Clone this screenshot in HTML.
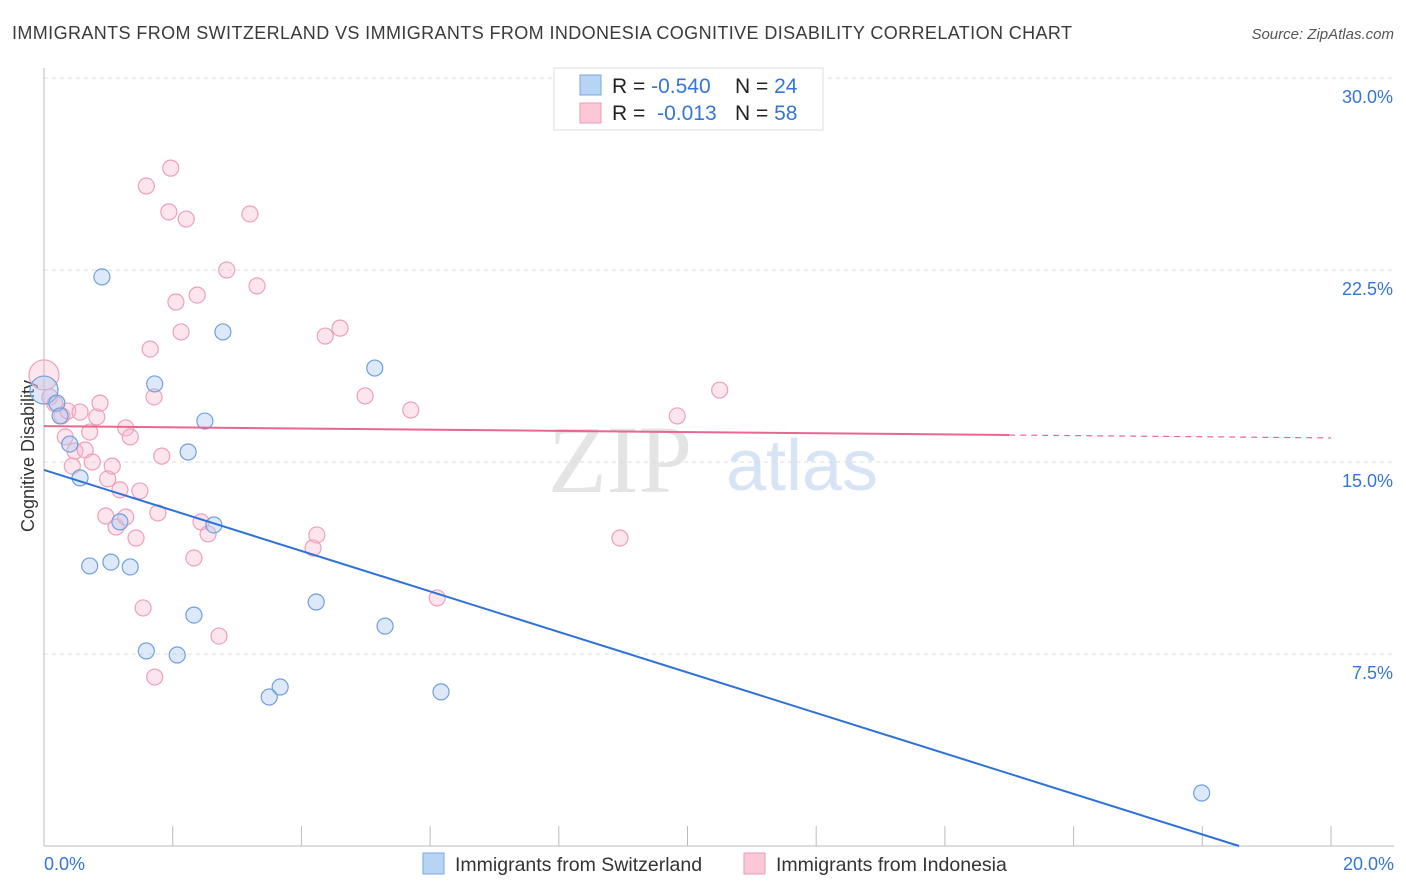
<!DOCTYPE html>
<html><head><meta charset="utf-8"><style>
body{margin:0;background:#fff;font-family:"Liberation Sans",sans-serif;}
svg{display:block}
</style></head><body>
<svg id="chart" width="1406" height="892" xmlns="http://www.w3.org/2000/svg">
<text x="12" y="39" font-size="18" fill="#3a3a3a" textLength="1060" lengthAdjust="spacing">IMMIGRANTS FROM SWITZERLAND VS IMMIGRANTS FROM INDONESIA COGNITIVE DISABILITY CORRELATION CHART</text>
<text x="1394" y="39" font-size="15" fill="#555" font-style="italic" text-anchor="end">Source: ZipAtlas.com</text>
<text x="620" y="492" font-size="96" fill="#e4e4e4" font-family="Liberation Serif,serif" text-anchor="middle">ZIP</text>
<text x="802" y="490" font-size="72" fill="#d6e4f5" text-anchor="middle">atlas</text>
<text transform="translate(34,456) rotate(-90)" font-size="18" fill="#333" text-anchor="middle">Cognitive Disability</text>
<g id="grid"></g>
<g id="pts"></g>
<g id="lines"></g>
<g>
<rect x="554" y="68" width="269" height="62" fill="#fff" stroke="#ddd"/>
<rect x="580" y="75" width="21" height="20" fill="#b8d4f4" stroke="#7aa7e0"/>
<rect x="580" y="103" width="21" height="20" fill="#fcc8d8" stroke="#ee9ab4"/>
<text x="612" y="93" font-size="21" fill="#222">R = <tspan fill="#3575d6">-0.540</tspan></text>
<text x="735" y="93" font-size="21" fill="#222">N = <tspan fill="#3575d6">24</tspan></text>
<text x="612" y="120" font-size="21" fill="#222">R = <tspan fill="#3575d6" dx="6">-0.013</tspan></text>
<text x="735" y="120" font-size="21" fill="#222">N = <tspan fill="#3575d6">58</tspan></text>
</g>
<g>
<rect x="423" y="853" width="21" height="21" fill="#b8d4f4" stroke="#7aa7e0"/>
<text x="455" y="871" font-size="19.5" fill="#333">Immigrants from Switzerland</text>
<rect x="744" y="853" width="21" height="21" fill="#fcc8d8" stroke="#ee9ab4"/>
<text x="776" y="871" font-size="19.5" fill="#333">Immigrants from Indonesia</text>
</g>
</svg>
<script>
const yTicks=[7.5,15,22.5,30];
const yTickLabels=["7.5%","15.0%","22.5%","30.0%"];
const xTickLabels=["0.0%","20.0%"];
const swissX=[0,0.20,0.25,0.40,0.56,0.71,0.90,1.04,1.18,1.34,1.59,1.72,2.07,2.24,2.33,2.50,2.64,2.78,3.50,3.67,4.23,5.14,5.30,6.17,17.99];
const swissY=[17.81,17.30,16.80,15.70,14.38,10.94,22.23,11.09,12.66,10.90,7.62,18.05,7.46,15.39,9.02,16.60,12.54,20.08,5.82,6.21,9.53,18.67,8.59,6.02,2.07];
const indoX=[0,0.09,0.17,0.28,0.33,0.37,0.44,0.48,0.56,0.64,0.71,0.75,0.82,0.87,0.96,0.99,1.06,1.12,1.18,1.27,1.27,1.34,1.43,1.49,1.54,1.59,1.65,1.71,1.72,1.77,1.83,1.94,1.97,2.05,2.13,2.21,2.33,2.38,2.44,2.55,2.72,2.84,3.20,3.31,4.18,4.24,4.37,4.60,4.99,5.70,6.11,8.95,9.84,10.50];
const indoY=[18.40,17.54,17.27,16.80,15.98,16.99,14.84,15.43,16.95,15.47,16.17,15.00,16.76,17.30,12.89,14.34,14.84,12.46,13.91,16.33,12.85,15.98,12.03,13.87,9.30,25.78,19.41,17.54,6.60,13.01,15.23,24.77,26.48,21.25,20.08,24.49,11.25,21.52,12.66,12.19,8.20,22.50,24.69,21.88,11.64,12.15,19.92,20.23,17.58,17.03,9.69,12.03,16.80,17.81];
const swissTrend=[14.69,-0.791];
const indoTrend=[16.40,-0.023];
const NS="http://www.w3.org/2000/svg";
const X=v=>44+v/20*1287, Y=v=>846-v*25.6;
function mk(t,a,p){const e=document.createElementNS(NS,t);for(const k in a)e.setAttribute(k,a[k]);p.appendChild(e);return e;}
const grid=document.getElementById('grid');
yTicks.forEach((t,i)=>{
 const l=mk('line',{x1:44,x2:1394,y1:Y(t),y2:Y(t),stroke:'#ddd','stroke-dasharray':'4,4'},grid);
 
 
 const tx=mk('text',{x:1393,y:Y(t)+25,'font-size':18,fill:'#3575d6','text-anchor':'end'},grid);
 tx.textContent=yTickLabels[i];
 
 
});
const ax=mk('line',{x1:44,x2:1394,y1:846,y2:846,stroke:'#bbb'},grid);


const ay=mk('line',{x1:44,x2:44,y1:68,y2:846,stroke:'#bbb'},grid);


for(let i=1;i<=10;i++){
 const t=mk('line',{x1:X(i*2),x2:X(i*2),y1:826,y2:846,stroke:'#bbb'},grid);
 
 
}
[[0,'start',44],[20,'end',1394]].forEach((d,i)=>{
 const tx=mk('text',{x:d[2],y:870,'font-size':18,fill:'#3575d6','text-anchor':d[1]},grid);
 tx.textContent=xTickLabels[i];
 
 
});
const pts=document.getElementById('pts');
indoX.forEach((x,i)=>{
 const c=mk('circle',{cx:X(x),cy:Y(indoY[i]),r:x===0?15:8,fill:'rgba(248,180,202,0.35)',stroke:'#eea0b9','stroke-width':1.2},pts);
 
 
});
swissX.forEach((x,i)=>{
 const c=mk('circle',{cx:X(x),cy:Y(swissY[i]),r:x===0?14:8,fill:'rgba(170,200,240,0.4)',stroke:'#6f9fdc','stroke-width':1.2},pts);
 
 
});
const lines=document.getElementById('lines');
const xEnd=-swissTrend[0]/swissTrend[1];
const bl=mk('line',{x1:X(0),y1:Y(swissTrend[0]),x2:X(xEnd),y2:Y(0),stroke:'#2f72d6','stroke-width':2},lines);


const pl=mk('line',{x1:X(0),y1:Y(indoTrend[0]),x2:X(15),y2:Y(indoTrend[0]+indoTrend[1]*15),stroke:'#e8678f','stroke-width':2},lines);


const pd=mk('line',{x1:X(15),y1:Y(indoTrend[0]+indoTrend[1]*15),x2:X(20),y2:Y(indoTrend[0]+indoTrend[1]*20),stroke:'#e8678f','stroke-width':1.2,'stroke-dasharray':'6,5'},lines);


</script>
</body></html>
